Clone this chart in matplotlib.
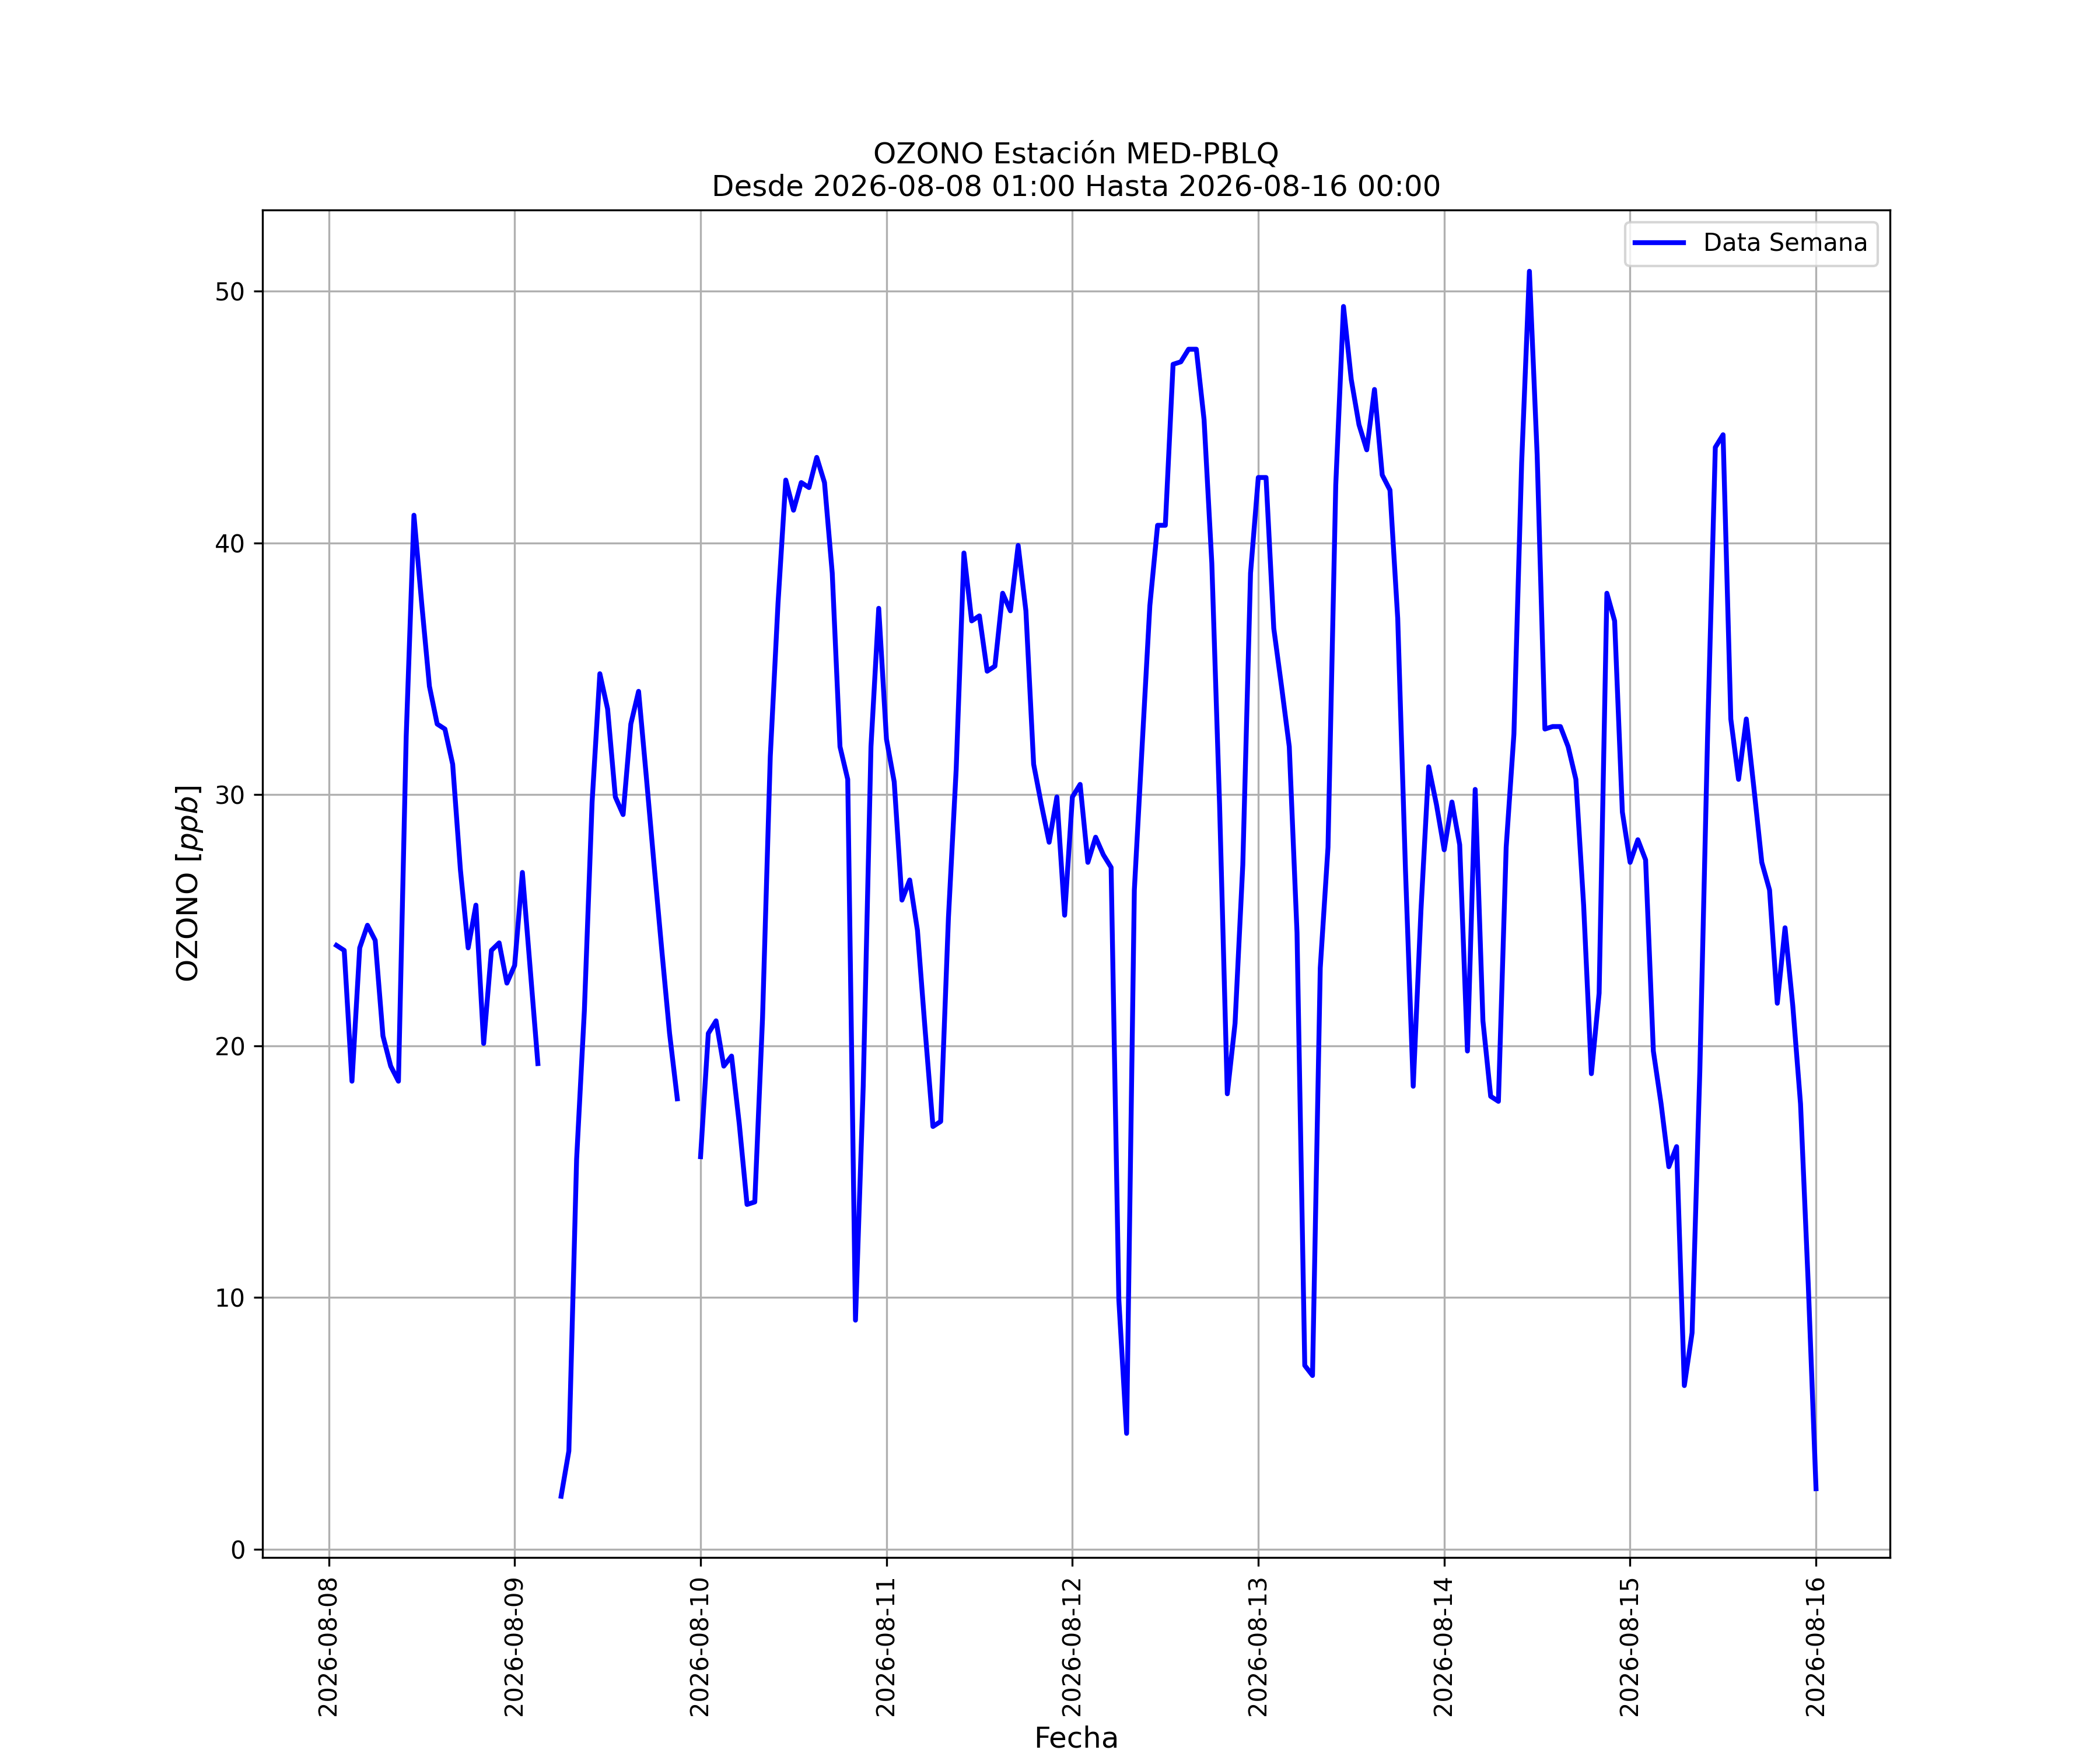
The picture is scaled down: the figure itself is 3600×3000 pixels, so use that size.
import numpy as np
import pandas as pd
import matplotlib
matplotlib.use("Agg")
import matplotlib.pyplot as plt
import matplotlib.dates as mdates

# Hourly ozone readings, 2026-08-08 01:00 .. 2026-08-16 00:00 (NaN = missing)
fechas = pd.date_range("2026-08-08 01:00", "2026-08-16 00:00", freq="h")

ozono = [
    # 08-08 01:00 .. 08-09 00:00
    24.0, 23.8, 18.6, 23.9, 24.8, 24.2, 20.4, 19.2, 18.6, 32.3, 41.1, 37.6,
    34.3, 32.8, 32.6, 31.2, 27.0, 23.9, 25.6, 20.1, 23.8, 24.1, 22.5, 23.2,
    # 08-09 01:00 .. 08-10 00:00
    26.9, 23.1, 19.3, np.nan, np.nan, 2.1, 3.9, 15.5, 21.4, 29.7, 34.8, 33.4,
    29.9, 29.2, 32.8, 34.1, 30.7, 27.2, 23.8, 20.5, 17.9, np.nan, np.nan, 15.6,
    # 08-10 01:00 .. 08-11 00:00
    20.5, 21.0, 19.2, 19.6, 16.9, 13.7, 13.8, 21.1, 31.5, 37.6, 42.5, 41.3,
    42.4, 42.2, 43.4, 42.4, 38.8, 31.9, 30.6, 9.1, 18.4, 31.9, 37.4, 32.2,
    # 08-11 01:00 .. 08-12 00:00
    30.5, 25.8, 26.6, 24.6, 20.6, 16.8, 17.0, 25.1, 31.0, 39.6, 36.9, 37.1,
    34.9, 35.1, 38.0, 37.3, 39.9, 37.3, 31.2, 29.6, 28.1, 29.9, 25.2, 29.9,
    # 08-12 01:00 .. 08-13 00:00
    30.4, 27.3, 28.3, 27.6, 27.1, 9.9, 4.6, 26.2, 31.9, 37.5, 40.7, 40.7,
    47.1, 47.2, 47.7, 47.7, 44.9, 39.2, 29.6, 18.1, 20.9, 27.2, 38.8, 42.6,
    # 08-13 01:00 .. 08-14 00:00
    42.6, 36.6, 34.3, 31.9, 24.5, 7.3, 6.9, 23.1, 27.9, 42.3, 49.4, 46.5,
    44.7, 43.7, 46.1, 42.7, 42.1, 37.0, 27.0, 18.4, 25.4, 31.1, 29.6, 27.8,
    # 08-14 01:00 .. 08-15 00:00
    29.7, 28.0, 19.8, 30.2, 21.0, 18.0, 17.8, 27.9, 32.4, 43.2, 50.8, 43.5,
    32.6, 32.7, 32.7, 31.9, 30.6, 25.6, 18.9, 22.1, 38.0, 36.9, 29.3, 27.3,
    # 08-15 01:00 .. 08-16 00:00
    28.2, 27.4, 19.8, 17.7, 15.2, 16.0, 6.5, 8.6, 19.0, 32.3, 43.8, 44.3,
    33.0, 30.6, 33.0, 30.2, 27.3, 26.2, 21.7, 24.7, 21.6, 17.7, 10.5, 2.4,
]

estacion = "MED-PBLQ"
contaminante = "OZONO"

fig = plt.figure(figsize=(12, 10))
ax = fig.add_subplot(111)
ax.plot(fechas, ozono, color="b", linewidth=2, label="Data Semana")
ax.set_title("%s Estación %s\nDesde %s Hasta %s" % (
    contaminante, estacion,
    fechas[0].strftime("%Y-%m-%d %H:%M"), fechas[-1].strftime("%Y-%m-%d %H:%M")))
ax.set_xlabel("Fecha", fontsize=12)
ax.set_ylabel(contaminante + r" $[ppb]$", fontsize=12)
ax.xaxis.set_major_locator(mdates.DayLocator())
ax.xaxis.set_major_formatter(mdates.DateFormatter("%Y-%m-%d"))
plt.setp(ax.get_xticklabels(), rotation=90)
ax.grid(True)
ax.legend(loc="upper right")
plt.savefig("out.png", dpi=300)
